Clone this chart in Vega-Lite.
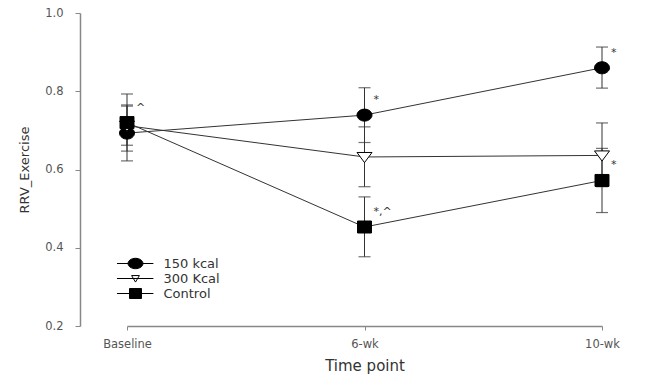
{
  "$schema": "https://vega.github.io/schema/vega-lite/v6.json",
  "autosize": {"type": "none"},
  "padding": {"left": 80, "top": 13, "right": 2, "bottom": 52},
  "width": 563,
  "height": 313,
  "background": "white",
  "config": {
    "view": {"stroke": null},
    "font": "DejaVu Sans"
  },
  "data": {
    "values": [
      {"group": "150 kcal", "time": "Baseline", "mean": 0.693, "lo": 0.622, "hi": 0.765, "sig": ""},
      {"group": "150 kcal", "time": "6-wk", "mean": 0.739, "lo": 0.669, "hi": 0.809, "sig": "*"},
      {"group": "150 kcal", "time": "10-wk", "mean": 0.860, "lo": 0.808, "hi": 0.913, "sig": "*"},
      {"group": "300 Kcal", "time": "Baseline", "mean": 0.712, "lo": 0.662, "hi": 0.762, "sig": ""},
      {"group": "300 Kcal", "time": "6-wk", "mean": 0.632, "lo": 0.556, "hi": 0.709, "sig": ""},
      {"group": "300 Kcal", "time": "10-wk", "mean": 0.636, "lo": 0.556, "hi": 0.719, "sig": ""},
      {"group": "Control", "time": "Baseline", "mean": 0.720, "lo": 0.647, "hi": 0.793, "sig": "^"},
      {"group": "Control", "time": "6-wk", "mean": 0.453, "lo": 0.377, "hi": 0.530, "sig": "*,^"},
      {"group": "Control", "time": "10-wk", "mean": 0.572, "lo": 0.490, "hi": 0.654, "sig": "*"}
    ]
  },
  "encoding": {
    "x": {
      "field": "time", "type": "ordinal", "sort": ["Baseline", "6-wk", "10-wk"],
      "scale": {"type": "point", "range": [47, 522], "padding": 0},
      "axis": {
        "title": "Time point", "labelAngle": 0, "domainColor": "#888", "domainWidth": 1.5,
        "tickColor": "#888", "tickSize": 4, "labelPadding": 8, "labelFontSize": 11.5,
        "labelColor": "#555", "titleFontSize": 15, "titleFontWeight": "normal",
        "titleColor": "#333", "titlePadding": 9
      }
    }
  },
  "layer": [
    {
      "mark": {"type": "line", "color": "#333", "strokeWidth": 1},
      "encoding": {
        "y": {
          "field": "mean", "type": "quantitative", "title": "RRV_Exercise",
          "scale": {"domain": [0.2, 1.0], "nice": false, "zero": false},
          "axis": {
            "title": "RRV_Exercise", "values": [0.2, 0.4, 0.6, 0.8, 1.0], "format": ".1f",
            "grid": false, "domainColor": "#888", "domainWidth": 1.5, "tickColor": "#888",
            "tickSize": 5, "labelPadding": 12, "labelFontSize": 11.5, "labelColor": "#555",
            "titleFontSize": 13, "titleFontWeight": "normal", "titleColor": "#333", "titlePadding": 13
          }
        },
        "detail": {"field": "group"}
      }
    },
    {
      "mark": {"type": "errorbar", "color": "#333", "thickness": 1, "ticks": {"size": 12, "thickness": 1.2, "color": "#333"}},
      "encoding": {
        "y": {"field": "lo", "type": "quantitative", "title": "RRV_Exercise"},
        "y2": {"field": "hi"},
        "detail": {"field": "group"}
      }
    },
    {
      "mark": {"type": "point", "filled": true, "size": 225, "opacity": 1, "stroke": "black", "strokeWidth": 1},
      "encoding": {
        "y": {"field": "mean", "type": "quantitative", "title": "RRV_Exercise"},
        "shape": {
          "field": "group", "type": "nominal",
          "scale": {
            "domain": ["150 kcal", "300 Kcal", "Control"],
            "range": [
              "M-1,0A1,0.8 0 1,0 1,0A1,0.8 0 1,0 -1,0Z",
              "M-1,-0.6L1,-0.6L0,0.75Z",
              "M-0.93,-0.8H0.93V0.8H-0.93Z"
            ]
          },
          "legend": null
        },
        "fill": {
          "field": "group", "type": "nominal",
          "scale": {"domain": ["150 kcal", "300 Kcal", "Control"], "range": ["black", "white", "black"]},
          "legend": null
        }
      }
    },
    {
      "mark": {"type": "text", "align": "left", "dx": 9, "dy": -15, "fontSize": 11, "color": "#333"},
      "encoding": {
        "y": {"field": "mean", "type": "quantitative", "title": "RRV_Exercise"},
        "text": {"field": "sig"}
      }
    },
    {
      "mark": {"type": "point", "filled": true, "strokeWidth": 1, "opacity": 0, "size": 169},
      "encoding": {
        "y": {"field": "mean", "type": "quantitative", "title": "RRV_Exercise"},
        "shape": {
          "field": "group", "type": "nominal",
          "scale": {
            "domain": ["150 kcal", "300 Kcal", "Control"],
            "range": [
              "M-2.85,0H-1.15M1.15,0H2.75M-1.15,0A1.15,0.8 0 1,0 1.15,0A1.15,0.8 0 1,0 -1.15,0Z",
              "M-2.85,0H2.75M-0.6,-0.45L0.6,-0.45L0,0.55Z",
              "M-2.85,0H2.75M-0.92,-0.77H0.92V0.77H-0.92Z"
            ]
          },
          "legend": {
            "title": null, "orient": "none", "legendX": 48.5, "legendY": 243.5, "padding": 0,
            "rowPadding": 0, "labelOffset": 21, "labelFontSize": 13, "labelColor": "#333",
            "symbolSize": 169, "symbolStrokeWidth": 1, "symbolOpacity": 1
          }
        },
        "fill": {
          "field": "group", "type": "nominal",
          "scale": {"domain": ["150 kcal", "300 Kcal", "Control"], "range": ["black", "white", "black"]},
          "legend": {
            "title": null, "orient": "none", "legendX": 48.5, "legendY": 243.5, "padding": 0,
            "rowPadding": 0, "labelOffset": 21, "labelFontSize": 13, "labelColor": "#333",
            "symbolSize": 169, "symbolStrokeWidth": 1, "symbolOpacity": 1
          }
        },
        "stroke": {
          "field": "group", "type": "nominal",
          "scale": {"domain": ["150 kcal", "300 Kcal", "Control"], "range": ["black", "black", "black"]},
          "legend": {
            "title": null, "orient": "none", "legendX": 48.5, "legendY": 243.5, "padding": 0,
            "rowPadding": 0, "labelOffset": 21, "labelFontSize": 13, "labelColor": "#333",
            "symbolSize": 169, "symbolStrokeWidth": 1, "symbolOpacity": 1
          }
        }
      }
    }
  ],
  "resolve": {"scale": {"shape": "independent", "fill": "independent", "stroke": "independent"}}
}
